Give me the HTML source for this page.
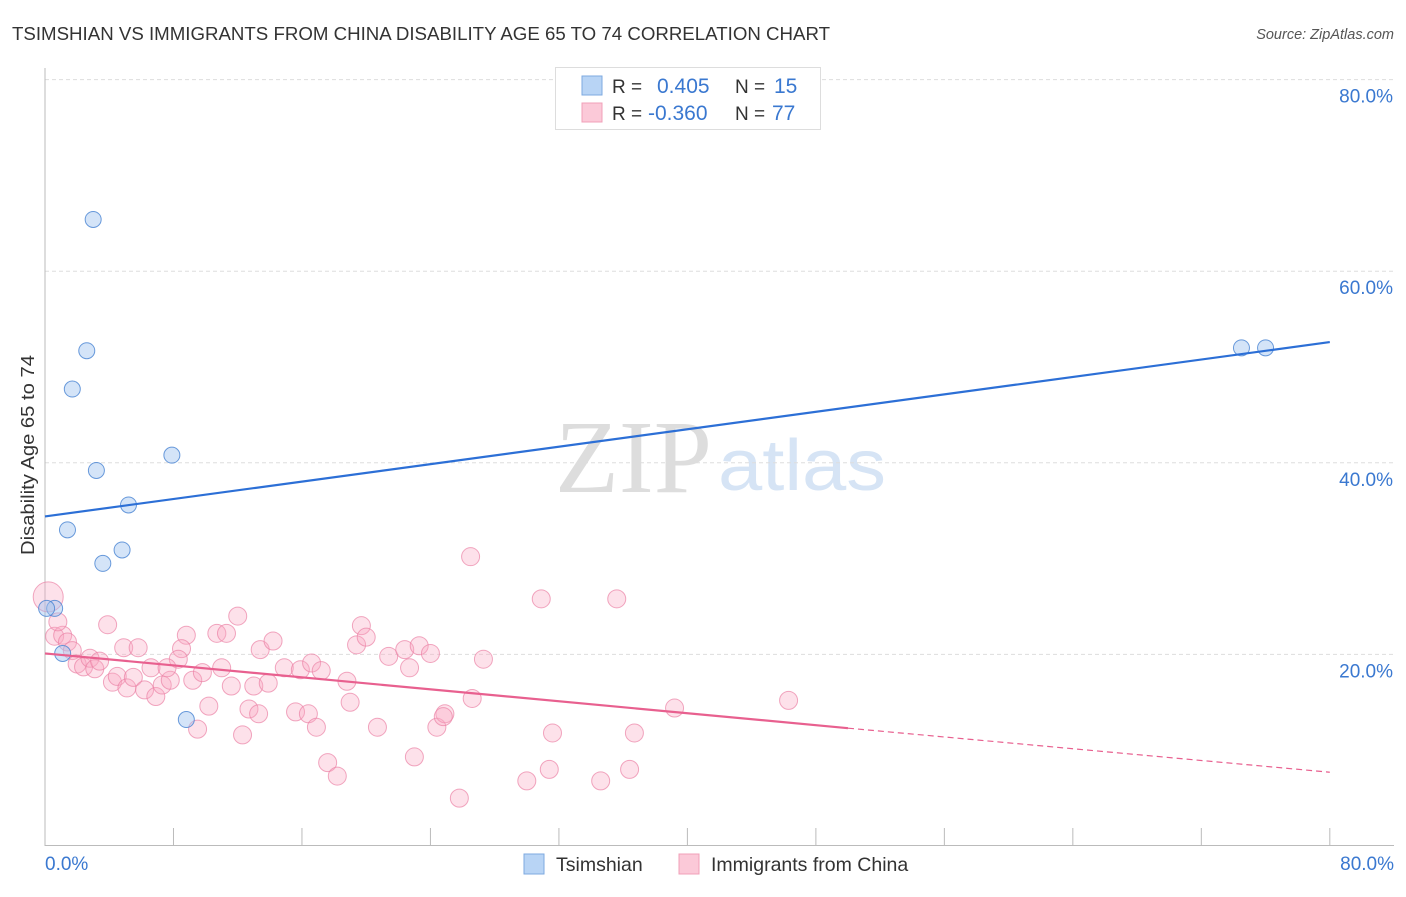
<!DOCTYPE html>
<html><head><meta charset="utf-8"><style>
body{margin:0;background:#fff;font-family:"Liberation Sans",sans-serif;}
svg text{font-family:"Liberation Sans",sans-serif;}
</style></head><body>
<svg id="c" width="1406" height="892">
<text x="12" y="40" font-size="18" fill="#333" textLength="818" lengthAdjust="spacingAndGlyphs">TSIMSHIAN VS IMMIGRANTS FROM CHINA DISABILITY AGE 65 TO 74 CORRELATION CHART</text>
<text x="1394" y="39" font-size="14.5" fill="#555" font-style="italic" text-anchor="end">Source: ZipAtlas.com</text>
<text x="555" y="492" font-size="104" fill="#ddd" textLength="157" lengthAdjust="spacingAndGlyphs" style="font-family:'Liberation Serif',serif">ZIP</text>
<text x="718" y="490" font-size="72" fill="#d6e4f5" textLength="168" lengthAdjust="spacingAndGlyphs">atlas</text>
<g id="grid"></g><g id="axes"></g><g id="pts"></g><g id="lines"></g>
<text x="34" y="455" font-size="18" fill="#333" text-anchor="middle" textLength="200" lengthAdjust="spacingAndGlyphs" transform="rotate(-90 34 455)">Disability Age 65 to 74</text>
<g>
<rect x="555.5" y="67.5" width="265" height="62" fill="#fff" stroke="#ddd"/>
<rect x="582" y="76" width="20" height="19" fill="#b8d4f5" stroke="#7eaae0"/>
<rect x="582" y="103" width="20" height="19" fill="#fbc9d8" stroke="#f0a0b8"/>
<text x="612" y="93" font-size="19" fill="#333">R = </text><text x="657" y="93" font-size="21" fill="#3a78d0">0.405</text>
<text x="735" y="93" font-size="19" fill="#333">N = </text><text x="774" y="93" font-size="21" fill="#3a78d0">15</text>
<text x="612" y="120" font-size="19" fill="#333">R = </text><text x="648" y="120" font-size="21" fill="#3a78d0">-0.360</text>
<text x="735" y="120" font-size="19" fill="#333">N = </text><text x="772" y="120" font-size="21" fill="#3a78d0">77</text>
</g>
<g>
<rect x="524" y="854" width="20" height="20" fill="#b8d4f5" stroke="#7eaae0"/>
<text x="556" y="871" font-size="19.5" fill="#333">Tsimshian</text>
<rect x="679" y="854" width="20" height="20" fill="#fbc9d8" stroke="#f0a0b8"/>
<text x="711" y="871" font-size="19.5" fill="#333">Immigrants from China</text>
</g>
</svg>
<script>
const xTicks=[0,8,16,24,32,40,48,56,64,72,80];
const yTicks=[20,40,60,80];
const blueX=[3.0,2.6,1.7,3.2,7.9,5.2,1.4,3.6,4.8,0.6,0.1,1.1,8.8,74.5,76.0];
const blueY=[65.4,51.7,47.7,39.2,40.8,35.6,33.0,29.5,30.9,24.8,24.8,20.1,13.2,52.0,52.0];
const pinkX=[26.5,30.9,3.9,12.0,10.7,11.3,8.8,8.5,8.3,4.9,5.8,0.6,1.1,1.4,1.7,2.0,2.4,2.8,3.1,3.4,4.2,4.5,5.1,5.5,6.2,6.6,6.9,7.3,7.8,7.6,9.2,9.8,10.2,9.5,11.0,11.6,12.3,12.7,13.0,13.3,13.4,13.9,14.2,14.9,15.6,15.9,16.4,16.6,16.9,17.2,17.6,18.2,18.8,19.0,19.4,19.7,20.0,20.7,21.4,22.4,22.7,23.0,23.3,24.0,24.4,24.9,24.8,25.8,26.6,27.3,30.0,31.6,31.4,34.6,35.6,36.4,36.7,39.2,46.3,0.8,0.2];
const pinkY=[30.2,25.8,23.1,24.0,22.2,22.2,22.0,20.6,19.5,20.7,20.7,21.9,22.0,21.3,20.4,19.0,18.7,19.6,18.5,19.3,17.1,17.7,16.5,17.6,16.3,18.6,15.6,16.8,17.3,18.6,17.3,18.1,14.6,12.2,18.6,16.7,11.6,14.3,16.7,13.8,20.5,17.0,21.4,18.6,14.0,18.4,13.8,19.1,12.4,18.3,8.7,7.3,17.2,15.0,21.0,23.0,21.8,12.4,19.8,20.5,18.6,9.3,20.9,20.1,12.4,13.8,13.5,5.0,15.4,19.5,6.8,11.8,8.0,6.8,25.8,8.0,11.8,14.4,15.2,23.4,26.0];
const pinkR=new Array(pinkX.length).fill(9);pinkR[pinkR.length-1]=15;
const blueLine=[[0,34.4],[80,52.6]];
const pinkLine=[[0,20.1],[50,12.3],[80,7.7]];
const X=v=>45+v*16.06, Y=v=>846-v*9.58;
const NS='http://www.w3.org/2000/svg';
function mk(p,t,a){const e=document.createElementNS(NS,t);for(const k in a)e.setAttribute(k,a[k]);document.getElementById(p).appendChild(e);return e;}
yTicks.forEach(v=>{
 const l=mk('grid','line',{x1:45,x2:1394,y1:Y(v),y2:Y(v),stroke:'#ddd','stroke-dasharray':'4 3'});
 
 
 const t=mk('axes','text',{x:1393,y:Y(v)+23,'font-size':19,fill:'#3a78d0','text-anchor':'end'});t.textContent=v.toFixed(1)+'%';
 
 
});
mk('axes','line',{x1:45,x2:45,y1:68,y2:846,stroke:'#bbb'});
mk('axes','line',{x1:45,x2:1394,y1:845.5,y2:845.5,stroke:'#bbb'});
xTicks.forEach(v=>{if(v>0){const l=mk('axes','line',{x1:X(v),x2:X(v),y1:828,y2:846,stroke:'#bbb'});
 
 }});
[[0,'start',45],[80,'end',1394]].forEach(([v,a,x])=>{const t=mk('axes','text',{x:x,y:870,'font-size':19,fill:'#3a78d0','text-anchor':a});t.textContent=v.toFixed(1)+'%';
 
 });
pinkX.forEach((x,i)=>{const c=mk('pts','circle',{cx:X(x),cy:Y(pinkY[i]),r:pinkR[i],fill:'rgba(248,170,195,0.35)',stroke:'rgba(235,130,165,0.7)'});
 
 });
blueX.forEach((x,i)=>{const c=mk('pts','circle',{cx:X(x),cy:Y(blueY[i]),r:8,fill:'rgba(160,195,240,0.45)',stroke:'rgba(70,130,210,0.8)'});
 
 });
let b=mk('lines','line',{x1:X(blueLine[0][0]),y1:Y(blueLine[0][1]),x2:X(blueLine[1][0]),y2:Y(blueLine[1][1]),stroke:'#2c6fd6','stroke-width':2.2});


let p=mk('lines','line',{x1:X(pinkLine[0][0]),y1:Y(pinkLine[0][1]),x2:X(pinkLine[1][0]),y2:Y(pinkLine[1][1]),stroke:'#e8608f','stroke-width':2.2});


let d=mk('lines','line',{x1:X(pinkLine[1][0]),y1:Y(pinkLine[1][1]),x2:X(pinkLine[2][0]),y2:Y(pinkLine[2][1]),stroke:'#e8608f','stroke-width':1.2,'stroke-dasharray':'6 4'});


</script>
</body></html>
